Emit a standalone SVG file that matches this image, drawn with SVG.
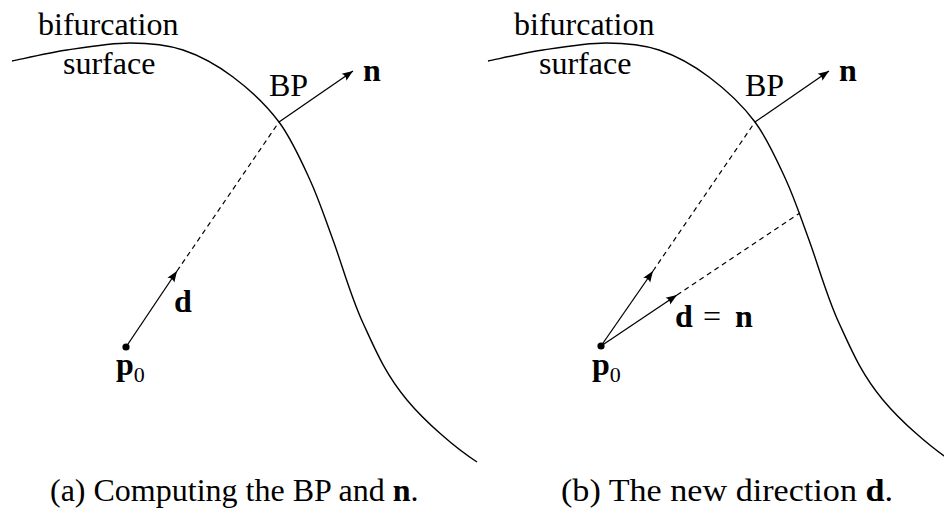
<svg xmlns="http://www.w3.org/2000/svg" width="944" height="509" viewBox="0 0 944 509">
<style>
  .t { font-family: 'Liberation Serif', 'DejaVu Serif', 'Noto Serif', serif; font-size: 32px; fill: #000; }
  .b { font-weight: bold; }
  .sub { font-size: 22px; }
  .curve { fill: none; stroke: #000; stroke-width: 1.4; }
  .arr { fill: none; stroke: #000; stroke-width: 1.3; marker-end: url(#ah); }
  .dash { fill: none; stroke: #000; stroke-width: 1.2; stroke-dasharray: 5 4; }
</style>
<defs>
  <marker id="ah" markerUnits="userSpaceOnUse" markerWidth="14" markerHeight="10" refX="12" refY="5" orient="auto" viewBox="0 0 14 10">
    <path d="M12,5 L1,0.8 Q4,5 1,9.2 Z" fill="#000"/>
  </marker>
  <path id="surf" d="M12,61 C21.2,59.2 47.3,53 67,50 C86.7,47 110.7,43 130,43 C149.3,43 165.8,44.3 183,50 C200.2,55.7 217,65 233,77 C249,89 266.2,104.8 279,122 C291.8,139.2 301,160.3 310,180 C319,199.7 324.2,216.2 333,240 C341.8,263.8 350.7,296.3 363,323 C375.3,349.7 385,373.6 407,400 C425,421.6 455,448 477,462"/>
</defs>
<rect width="944" height="509" fill="#fff"/>

<g id="panel-a">
  <g id="surface-a">
    <use href="#surf" class="curve"/>
    <text class="t" x="38" y="35">bifurcation</text>
    <text class="t" x="63" y="74">surface</text>
  </g>
  <g id="bp-a"><text class="t" x="269" y="96">BP</text></g>
  <g id="n-a"><text class="t b" x="363" y="81">n</text></g>
  <g id="p0-a">
    <circle cx="126" cy="347" r="3.6" fill="#000"/>
    <text class="t b" x="116" y="375">p<tspan class="sub" font-weight="normal" dy="7">0</tspan></text>
  </g>
  <g id="d-a"><text class="t b" x="174" y="312">d</text></g>
  <g id="connectors-a">
    <path class="dash" d="M177,271 L279,122"/>
    <path class="arr" d="M126,347 L177,271"/>
    <path class="arr" d="M279,122 L353,71"/>
  </g>
  <text class="t" x="50" y="501">(a) Computing the BP and <tspan class="b">n</tspan>.</text>
</g>

<g id="panel-b">
  <g id="surface-b">
    <use href="#surf" class="curve" transform="translate(476,0)"/>
    <text class="t" x="514" y="35">bifurcation</text>
    <text class="t" x="539" y="74">surface</text>
  </g>
  <g id="bp-b"><text class="t" x="745" y="96">BP</text></g>
  <g id="n-b"><text class="t b" x="839" y="81">n</text></g>
  <g id="p0-b">
    <circle cx="601" cy="346" r="3.6" fill="#000"/>
    <text class="t b" x="592" y="375">p<tspan class="sub" font-weight="normal" dy="7">0</tspan></text>
  </g>
  <g id="dn-b">
    <text class="t b" x="675" y="327">d</text>
    <text class="t" x="703" y="327">=</text>
    <text class="t b" x="735" y="327">n</text>
  </g>
  <g id="connectors-b">
    <path class="dash" d="M653,271 L755,122"/>
    <path class="dash" d="M677,295 L800,213"/>
    <path class="arr" d="M601,346 L653,271"/>
    <path class="arr" d="M601,346 L677,295"/>
    <path class="arr" d="M755,122 L829,71"/>
  </g>
  <text class="t" x="561" y="501" textLength="332" lengthAdjust="spacingAndGlyphs">(b) The new direction <tspan class="b">d</tspan>.</text>
</g>
</svg>
